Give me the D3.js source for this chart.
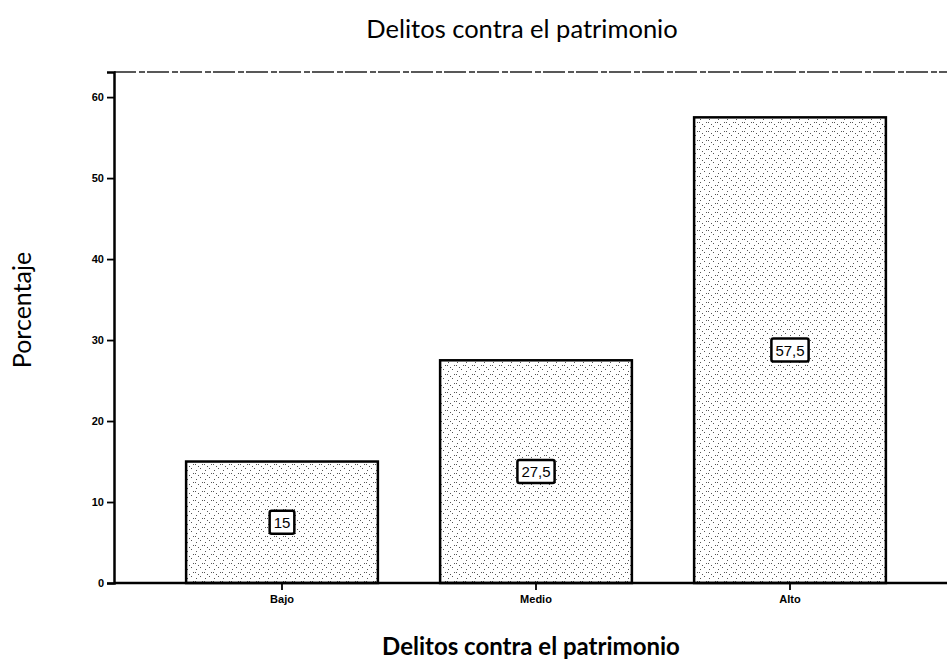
<!DOCTYPE html>
<html lang="es">
  <head>
    <meta charset="UTF-8" />
    <title>Delitos contra el patrimonio</title>
    <style>
      body { margin: 0; background: #fff; }
      .tick text { font-family: Arial, 'Liberation Sans', sans-serif; font-size: 11px; font-weight: bold; }
      .title { font-family: Lato, 'Open Sans', sans-serif; }
    </style>
  </head>
  <body>
    <script src="https://cdn.jsdelivr.net/npm/d3@7"></script>
    <script>
      // datos
      const categories = ['Bajo', 'Medio', 'Alto'];
      const values = [15, 27.5, 57.5];
      const valueLabels = ['15', '27,5', '57,5'];
      const yTicks = [0, 10, 20, 30, 40, 50, 60];

      const width = 947;
      const height = 662;
      const margin = { top: 72, right: 0, bottom: 79, left: 114 };
      const innerWidth = width - margin.left - margin.right;
      const innerHeight = height - margin.top - margin.bottom;

      const svg = d3.select('body').append('svg')
        .attr('width', width)
        .attr('height', height);

      // trama punteada de las barras
      const pat = svg.append('defs').append('pattern')
        .attr('id', 'stipple')
        .attr('patternUnits', 'userSpaceOnUse')
        .attr('width', 9)
        .attr('height', 9);
      pat.append('rect').attr('width', 9).attr('height', 9).attr('fill', '#fff');
      [[1, 2], [5, 0], [7, 5], [3, 7], [0, 5]].forEach(([px, py]) => {
        pat.append('rect').attr('x', px).attr('y', py)
          .attr('width', 1).attr('height', 1).attr('fill', '#555');
      });

      const g = svg.append('g')
        .attr('transform', `translate(${margin.left},${margin.top})`);

      const x = d3.scaleBand()
        .domain(categories)
        .range([41, 803])
        .paddingInner(0.245)
        .paddingOuter(0.1225);

      const y = d3.scaleLinear()
        .domain([0, 63.1])
        .range([innerHeight, 0]);

      // marco superior
      g.append('line')
        .attr('x1', 0).attr('x2', innerWidth)
        .attr('y1', 0).attr('y2', 0)
        .attr('stroke', '#222')
        .attr('stroke-width', 1.5)
        .attr('stroke-dasharray', '22,3,6,2');

      // barras
      g.selectAll('rect.bar')
        .data(values)
        .enter()
        .append('rect')
        .attr('class', 'bar')
        .attr('x', (d, i) => x(categories[i]))
        .attr('y', (d) => y(d))
        .attr('width', x.bandwidth())
        .attr('height', (d) => y(0) - y(d))
        .attr('fill', 'url(#stipple)')
        .attr('stroke', '#000')
        .attr('stroke-width', 2.5);

      // ejes
      const yAxis = g.append('g')
        .call(d3.axisLeft(y).tickValues(yTicks).tickSize(7).tickPadding(3));
      yAxis.select('.domain').attr('stroke-width', 2.5);
      yAxis.selectAll('.tick line').attr('stroke-width', 1.8);

      const xAxis = g.append('g')
        .attr('transform', `translate(0,${innerHeight})`)
        .call(d3.axisBottom(x).tickSize(7).tickPadding(5).tickSizeOuter(0));
      xAxis.select('.domain').attr('d', `M0,0H${innerWidth}`).attr('stroke-width', 2.5);
      xAxis.selectAll('.tick line').attr('stroke-width', 1.8);

      // etiquetas de valor
      const lab = g.selectAll('g.lab')
        .data(values)
        .enter()
        .append('g')
        .attr('class', 'lab')
        .attr('transform', (d, i) =>
          `translate(${x(categories[i]) + x.bandwidth() / 2},${y(d / 2)})`);

      lab.append('text')
        .text((d, i) => valueLabels[i])
        .attr('text-anchor', 'middle')
        .attr('dy', '0.36em')
        .attr('font-family', 'Arial, sans-serif')
        .attr('font-size', 15)
        .each(function () {
          const b = this.getBBox();
          d3.select(this.parentNode).insert('rect', 'text')
            .attr('x', b.x - 4).attr('y', b.y - 3)
            .attr('width', b.width + 8).attr('height', b.height + 6)
            .attr('rx', 2)
            .attr('fill', '#fff')
            .attr('stroke', '#000')
            .attr('stroke-width', 2.5);
        });

      // títulos
      svg.append('text')
        .attr('class', 'title')
        .text('Delitos contra el patrimonio')
        .attr('x', 522).attr('y', 38)
        .attr('text-anchor', 'middle')
        .attr('font-size', 25.5);

      svg.append('text')
        .attr('class', 'title')
        .text('Delitos contra el patrimonio')
        .attr('x', 531).attr('y', 655)
        .attr('text-anchor', 'middle')
        .attr('font-size', 24)
        .attr('font-weight', 'bold');

      svg.append('text')
        .attr('class', 'title')
        .text('Porcentaje')
        .attr('transform', 'translate(31,310) rotate(-90)')
        .attr('text-anchor', 'middle')
        .attr('font-size', 25);
    </script>
  </body>
</html>
